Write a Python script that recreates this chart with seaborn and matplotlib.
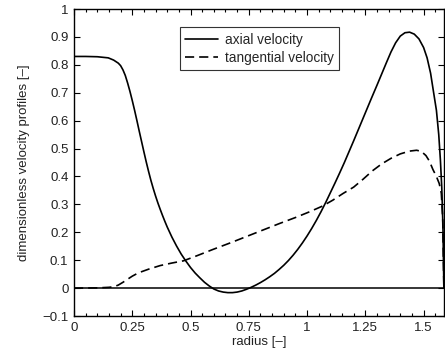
import matplotlib
matplotlib.use('Agg')
import matplotlib.pyplot as plt
from matplotlib.ticker import MultipleLocator, FuncFormatter
import seaborn as sns

sns.set_style('ticks')
plt.rcParams['font.family'] = ['Liberation Sans', 'DejaVu Sans']

# values
axial_r = [0, 0.05, 0.10, 0.147, 0.17, 0.19, 0.20, 0.21, 0.22, 0.23, 0.24, 0.25, 0.26,
           0.27, 0.28, 0.29, 0.30, 0.31, 0.32, 0.33, 0.34, 0.35, 0.36, 0.37, 0.38, 0.39,
           0.40, 0.42, 0.44, 0.46, 0.48, 0.50, 0.52, 0.54, 0.56, 0.58, 0.60, 0.62, 0.64,
           0.66, 0.68, 0.70, 0.72, 0.74, 0.76, 0.78, 0.80, 0.82, 0.84, 0.86, 0.88, 0.90,
           0.92, 0.94, 0.96, 0.98, 1.00, 1.02, 1.04, 1.06, 1.08, 1.10, 1.12, 1.14, 1.16,
           1.18, 1.20, 1.225, 1.25, 1.275, 1.30, 1.32, 1.34, 1.36, 1.38, 1.40, 1.42, 1.44,
           1.46, 1.48, 1.50, 1.515, 1.53, 1.545, 1.555, 1.565, 1.572, 1.578, 1.583, 1.587]
axial_u = [0.83, 0.83, 0.829, 0.825, 0.817, 0.806, 0.797, 0.782, 0.762, 0.735, 0.705,
           0.672, 0.637, 0.600, 0.562, 0.525, 0.488, 0.452, 0.418, 0.386, 0.357, 0.330,
           0.305, 0.282, 0.260, 0.239, 0.219, 0.183, 0.151, 0.122, 0.097, 0.074, 0.054,
           0.037, 0.021, 0.008, -0.003, -0.010, -0.014, -0.016, -0.016, -0.014, -0.010,
           -0.004, 0.003, 0.011, 0.020, 0.030, 0.041, 0.053, 0.067, 0.082, 0.099, 0.118,
           0.139, 0.162, 0.187, 0.214, 0.243, 0.274, 0.307, 0.342, 0.377, 0.413, 0.450,
           0.489, 0.528, 0.578, 0.628, 0.678, 0.727, 0.767, 0.807, 0.846, 0.879, 0.903,
           0.915, 0.917, 0.910, 0.893, 0.862, 0.825, 0.770, 0.690, 0.637, 0.550, 0.460,
           0.360, 0.220, 0.0]

tang_r = [0, 0.1, 0.15, 0.17, 0.19, 0.21, 0.23, 0.25, 0.27, 0.29, 0.32, 0.37, 0.42, 0.47,
          0.53, 0.597, 0.67, 0.74, 0.81, 0.883, 0.95, 1.012, 1.066, 1.11, 1.154, 1.2,
          1.24, 1.28, 1.32, 1.36, 1.40, 1.44, 1.47, 1.49, 1.51, 1.525, 1.54, 1.555,
          1.567, 1.576, 1.582, 1.587]
tang_w = [0, 0.001, 0.003, 0.005, 0.011, 0.021, 0.032, 0.043, 0.052, 0.059, 0.068, 0.081,
          0.090, 0.098, 0.117, 0.139, 0.162, 0.185, 0.208, 0.232, 0.253, 0.274, 0.294,
          0.315, 0.339, 0.362, 0.390, 0.420, 0.445, 0.465, 0.481, 0.491, 0.494, 0.490,
          0.475, 0.455, 0.425, 0.400, 0.375, 0.340, 0.250, 0.0]

fig = plt.figure(figsize=(4.45, 3.6), dpi=100)
ax = fig.add_axes([0.1663, 0.122, 0.8317, 0.853])

ax.axhline(0, color='k', lw=1.1)
sns.lineplot(x=axial_r, y=axial_u, color='k', lw=1.2, label='axial velocity', ax=ax)
sns.lineplot(x=tang_r, y=tang_w, color='k', lw=1.2, ls=(0, (5.5, 3)),
             label='tangential velocity', ax=ax)

ax.set_xlim(0, 1.588)
ax.set_ylim(-0.1, 1)
ax.xaxis.set_major_locator(MultipleLocator(0.25))
ax.xaxis.set_minor_locator(MultipleLocator(0.05))
ax.yaxis.set_major_locator(MultipleLocator(0.1))

fmt = FuncFormatter(lambda v, p: ('%g' % round(v, 3)).replace('-', '\u2212'))
ax.xaxis.set_major_formatter(fmt)
ax.yaxis.set_major_formatter(fmt)

ax.tick_params(which='both', direction='in', top=True, right=True, labelsize=9.5,
               width=0.8, color='k', labelcolor='#222222')
ax.tick_params(which='major', length=4, pad=4)
ax.tick_params(which='minor', length=2)
ax.tick_params(axis='y', which='minor', left=False, right=False)

for s in ax.spines.values():
    s.set_color('k')
    s.set_linewidth(1.0)

ax.set_xlabel('radius [\u2013]', fontsize=9.5, color='#222222', labelpad=2)
ax.set_ylabel('dimensionless velocity profiles [\u2013]', fontsize=9.5, color='#222222', labelpad=9)

leg = ax.legend(loc='upper left', bbox_to_anchor=(0.286, 0.94), fontsize=9.8,
                frameon=True, fancybox=False, framealpha=1, edgecolor='#333333',
                handlelength=2.4, handletextpad=0.5, borderpad=0.4, labelspacing=0.3,
                borderaxespad=0)
leg.get_frame().set_linewidth(0.8)

fig.savefig('out.png', dpi=100)
